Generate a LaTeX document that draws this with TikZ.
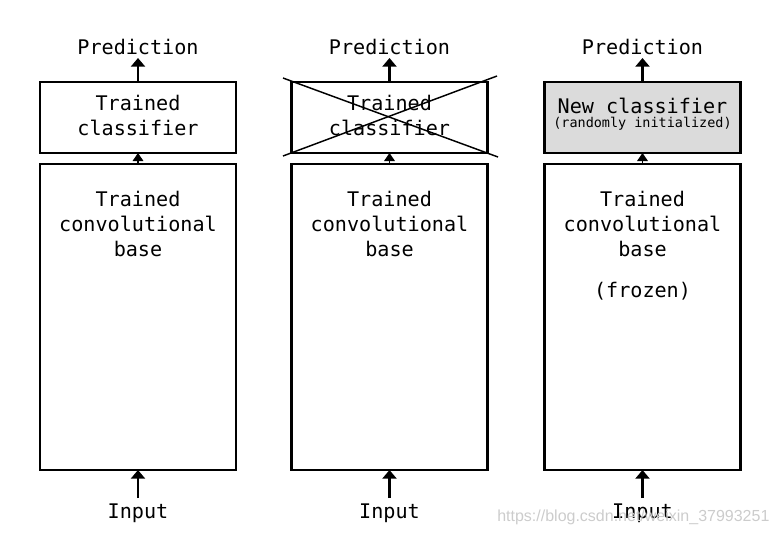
\documentclass[tikz,border=0pt]{standalone}
\usepackage{fontspec}
\setmonofont{DejaVu Sans Mono}
\setsansfont{Liberation Sans}
\usetikzlibrary{arrows.meta}
\begin{document}
\begin{tikzpicture}[x=0.75pt,y=-0.75pt,
  box/.style={draw, line width=1.6pt, inner sep=0pt, outer sep=0pt, minimum width=147pt},
  cls/.style={box, minimum height=53.25pt},
  conv/.style={box, minimum height=229.5pt},
  lbl/.style={font=\ttfamily\fontsize{15.1}{18.75}\selectfont, align=center, inner sep=0pt},
  small/.style={font=\ttfamily\fontsize{10.1}{12}\selectfont, inner sep=0pt},
  arr/.style={-{Triangle[width=10.5pt,length=6.5pt]}, line width=2.2pt},
  midarr/.style={-{Triangle[width=8pt,length=6pt]}, line width=0.8pt},
  cross/.style={line width=1.1pt}
]
\useasboundingbox (0,0) rectangle (778,536);

% Panel 1
\node[cls] (cls1) at (138,117.5) {};
\node[conv] (conv1) at (138,317) {};
\node[lbl] (cls1t) at (138,115) {Trained\\classifier};
\node[lbl] (conv1t) at (138,224) {Trained\\convolutional\\base};
\node[lbl] (pred1) at (138,47) {Prediction};
\node[lbl] (in1) at (138,513) {Input};
\coordinate (pt1) at (138,58);
\coordinate (ib1) at (138,498);
\draw[arr] (cls1.north) -- (pt1);
\draw[arr] (ib1) -- (conv1.south);
\draw[midarr] (conv1.north) -- (cls1.south);

% Panel 2
\node[cls] (cls2) at (389.5,117.5) {};
\node[conv] (conv2) at (389.5,317) {};
\node[lbl] (cls2t) at (389.5,115) {Trained\\classifier};
\node[lbl] (conv2t) at (389.5,224) {Trained\\convolutional\\base};
\node[lbl] (pred2) at (389.5,47) {Prediction};
\node[lbl] (in2) at (389.5,513) {Input};
\coordinate (pt2) at (389.5,58);
\coordinate (ib2) at (389.5,498);
\draw[arr] (cls2.north) -- (pt2);
\draw[arr] (ib2) -- (conv2.south);
\draw[midarr] (conv2.north) -- (cls2.south);
\coordinate (xa) at (283,78);
\coordinate (xb) at (498,157);
\coordinate (xc) at (283,156);
\coordinate (xd) at (497,76);
\draw[cross] (xa) -- (xb);
\draw[cross] (xc) -- (xd);

% Panel 3
\node[cls, fill=black!14] (cls3) at (642.5,117.5) {};
\node[conv] (conv3) at (642.5,317) {};
\node[lbl] (cls3t) at (642.5,106) {New classifier};
\node[small] (cls3s) at (642.5,124) {(randomly initialized)};
\node[lbl] (conv3t) at (642.5,224) {Trained\\convolutional\\base};
\node[lbl] (frz3) at (642.5,291) {(frozen)};
\node[lbl] (pred3) at (642.5,47) {Prediction};
\node[lbl] (in3) at (642.5,513) {Input};
\coordinate (pt3) at (642.5,58);
\coordinate (ib3) at (642.5,498);
\draw[arr] (cls3.north) -- (pt3);
\draw[arr] (ib3) -- (conv3.south);
\draw[midarr] (conv3.north) -- (cls3.south);

% watermark
\node[font=\sffamily\fontsize{12}{14}\selectfont, text=black!20, inner sep=0pt, anchor=west] (wm) at (497,517) {https://blog.csdn.net/weixin\_37993251};
\end{tikzpicture}
\end{document}
